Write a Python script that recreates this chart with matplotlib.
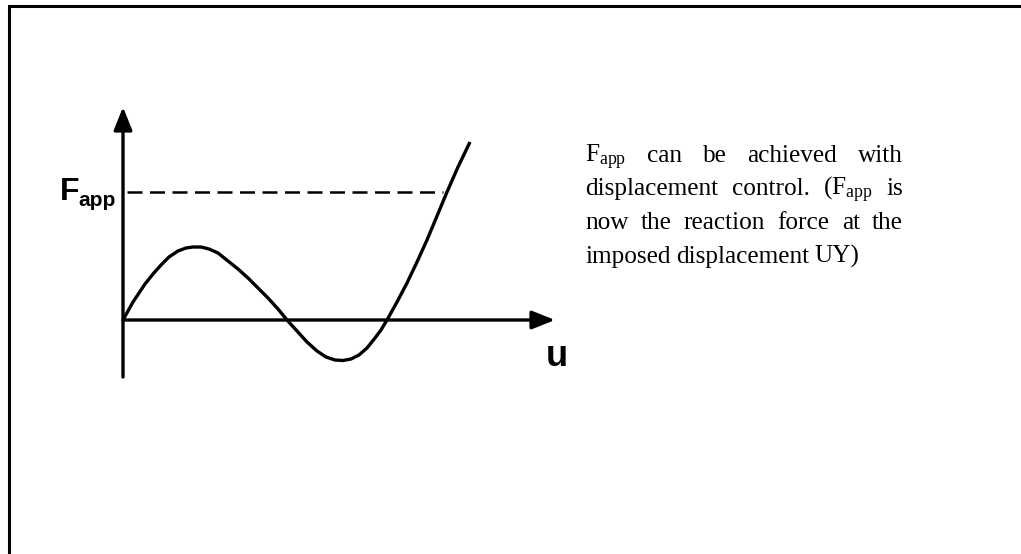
import matplotlib
matplotlib.use('Agg')
import matplotlib.pyplot as plt
from matplotlib.patches import Rectangle

plt.rcParams['mathtext.fontset'] = 'custom'
plt.rcParams['mathtext.rm'] = 'Liberation Serif'

# schematic force-displacement curve (u, F)
u_curve = [0.00, 0.05, 0.10, 0.16, 0.22, 0.30, 0.38, 0.46, 0.55, 0.63, 0.70, 0.78,
           0.86, 0.95, 1.05, 1.15, 1.25, 1.35, 1.45, 1.55, 1.64, 1.74, 1.84, 1.94,
           2.03, 2.12, 2.20, 2.28, 2.36, 2.44, 2.52, 2.58, 2.64, 2.74, 2.84, 2.94,
           3.04, 3.14, 3.24, 3.35, 3.47]
F_curve = [0.00, 0.09, 0.18, 0.27, 0.36, 0.46, 0.55, 0.63, 0.69, 0.72, 0.73, 0.73,
           0.71, 0.67, 0.59, 0.51, 0.42, 0.32, 0.22, 0.11, 0.00, -0.11, -0.22, -0.31,
           -0.37, -0.40, -0.405, -0.39, -0.35, -0.28, -0.18, -0.10, 0.00, 0.18, 0.37, 0.58,
           0.80, 1.04, 1.28, 1.53, 1.78]
F_app = 1.28
u_dash_end = 3.20
u_axis_end = 4.32
F_axis_top = 2.13
F_axis_bottom = -0.57

# paragraph to the right, one list per printed line
lines = [
    [r'$\mathrm{F_{app}}$', 'can', 'be', 'achieved', 'with'],
    ['displacement', 'control.', r'($\mathrm{F_{app}}$', 'is'],
    ['now', 'the', 'reaction', 'force', 'at', 'the'],
    ['imposed', 'displacement', 'UY)'],
]

W, H = 1021, 554
fig = plt.figure(figsize=(W / 100, H / 100), dpi=100)
ax = fig.add_axes([0, 0, 1, 1])
ax.set_xlim(-1.23, (W - 123) / 100)
ax.set_ylim((320 - H) / 100, 3.20)
ax.axis('off')

def px(x, y):
    return x / W, 1 - y / H

# outer frame (right/bottom edges lie outside the image)
fig.patches.append(Rectangle(px(9, 560), 1.1, (560 - 6) / H, transform=fig.transFigure,
                             fill=False, edgecolor='black', linewidth=2.2))

# axes with arrows
arrow = dict(arrowstyle='-|>,head_length=0.7,head_width=0.28', lw=2.4, color='black',
             mutation_scale=20, shrinkA=0, shrinkB=0)
ax.annotate('', xy=(0, F_axis_top), xytext=(0, F_axis_bottom), arrowprops=arrow)
ax.annotate('', xy=(u_axis_end, 0), xytext=(0, 0), arrowprops=arrow)

ax.plot([0.04, u_dash_end], [F_app, F_app], color='black', lw=1.8, dashes=(6, 3))
ax.plot(u_curve, F_curve, color='black', lw=2.4, solid_joinstyle='round',
        solid_capstyle='butt')

fig.canvas.draw()
r = fig.canvas.get_renderer()

# axis labels
sans = 'Liberation Sans'
sub = fig.text(*px(116, 206), 'app', fontsize=15, family=sans, weight='bold',
               ha='right', va='baseline')
sub_left = sub.get_window_extent(r).x0
fig.text(*px(sub_left + 1, 200), 'F', fontsize=23, family=sans, weight='bold',
         ha='right', va='baseline')
fig.text(*px(546, 366), 'u', fontsize=26, family=sans, weight='bold',
         ha='left', va='baseline')

# justified paragraph
left, right = 585, 903
baselines = [162, 195, 229, 263]
fs = 18.2
for i, words in enumerate(lines):
    texts = [fig.text(0, 0, w, fontsize=fs, family='Liberation Serif', va='baseline')
             for w in words]
    widths = [t.get_window_extent(r).width for t in texts]
    if i < len(lines) - 1:
        gap = (right - left - sum(widths)) / (len(words) - 1)
    else:
        gap = 5.5
    x = left
    for t, w in zip(texts, widths):
        t.set_position(px(x, baselines[i]))
        x += w + gap

fig.savefig('out.png', dpi=100)
